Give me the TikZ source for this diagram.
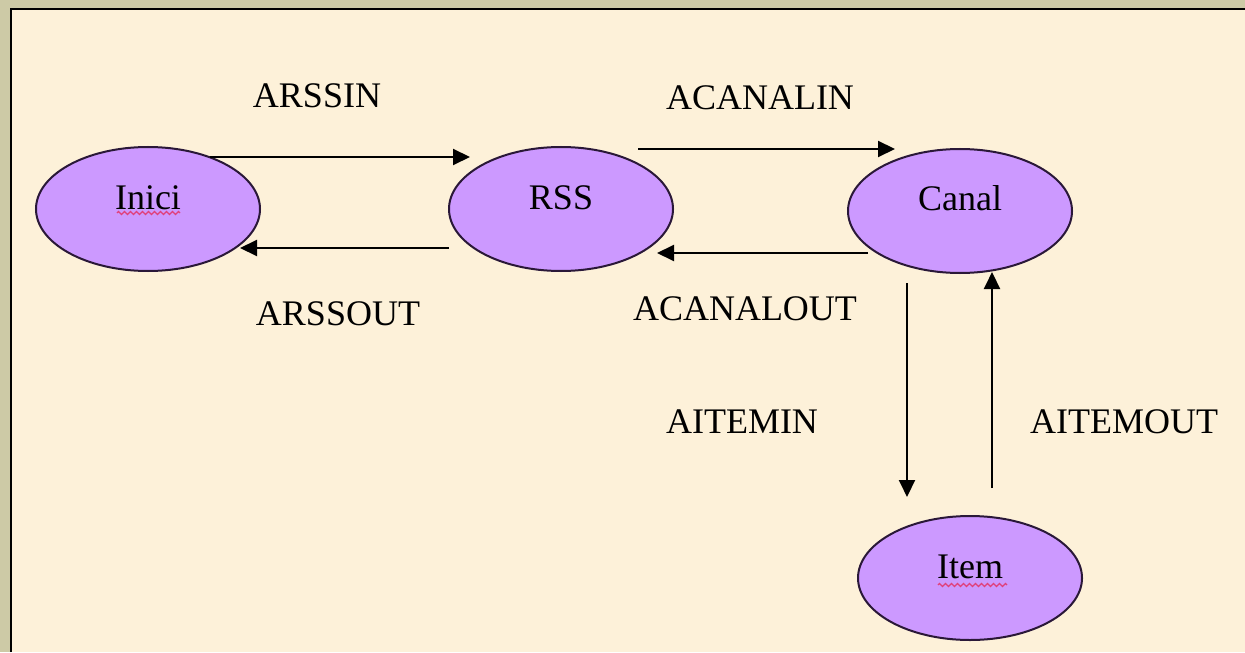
\documentclass[tikz,border=0pt]{standalone}
\usepackage{fontspec}
\setmainfont{Liberation Serif}
\usetikzlibrary{calc,arrows.meta,shapes.geometric,decorations.pathmorphing}
\definecolor{frame}{HTML}{CDCAA6}
\definecolor{paper}{HTML}{FDF1D9}
\definecolor{statefill}{HTML}{CC99FF}
\definecolor{stateline}{HTML}{2A1838}
\definecolor{squig}{HTML}{E0407A}
\begin{document}
\begin{tikzpicture}[x=0.5pt,y=-0.5pt,
  statenode/.style={ellipse, draw=stateline, line width=1pt, fill=statefill,
    minimum width=112pt, minimum height=62pt, inner sep=0pt,
    font=\fontsize{18}{20}\selectfont, text height=8pt, text depth=8pt},
  arr/.style={line width=1pt, -{Triangle[length=8.5pt,width=8pt]}},
  lbl/.style={anchor=base, inner sep=0pt, font=\fontsize{18}{20}\selectfont},
  wavy/.style={squig, line width=0.6pt, decorate,
    decoration={zigzag, segment length=3pt, amplitude=0.8pt}}]
\useasboundingbox (0,0) rectangle (1245,652);
% background and frame
\fill[frame] (0,0) rectangle (1245,652);
\fill[paper] (11,10) rectangle (1245,652);
\draw[black, line width=1pt] (11,652) -- (11,9.5) -- (1245,9.5);
% states
\node[statenode] (Inici) at (148,209) {Inici};
\node[statenode] (RSS)   at (561,209) {RSS};
\node[statenode] (Canal) at (960,211) {Canal};
\node[statenode] (Item)  at (970,578) {Item};
% spell-check underlines
\draw[wavy] ($(Inici.center)+(-31,4)$) -- ($(Inici.center)+(32,4)$);
\draw[wavy] ($(Item.center)+(-32,7)$) -- ($(Item.center)+(37,7)$);
% transitions
\draw[arr] ($(Inici.center)+(62,-52)$) -- ($(RSS.center)+(-91,-52)$);
\draw[arr] ($(RSS.center)+(-112,39)$) -- ($(Inici.center)+(92,39)$);
\draw[arr] ($(RSS.center)+(77,-60)$) -- ($(Canal.center)+(-65,-62)$);
\draw[arr] ($(Canal.center)+(-92,42)$) -- ($(RSS.center)+(96,44)$);
\draw[arr] ($(Canal.center)+(-53,72)$) -- ($(Item.center)+(-63,-81)$);
\draw[arr] ($(Item.center)+(22,-90)$) -- ($(Canal.center)+(32,61)$);
% labels
\node[lbl] (lARSSIN)    at (317,108) {ARSSIN};
\node[lbl] (lARSSOUT)   at (338,325) {ARSSOUT};
\node[lbl] (lACANALIN)  at (760,110) {ACANALIN};
\node[lbl] (lACANALOUT) at (745,320) {ACANALOUT};
\node[lbl] (lAITEMIN)   at (742,433) {AITEMIN};
\node[lbl] (lAITEMOUT)  at (1124,433) {AITEMOUT};
\end{tikzpicture}
\end{document}
